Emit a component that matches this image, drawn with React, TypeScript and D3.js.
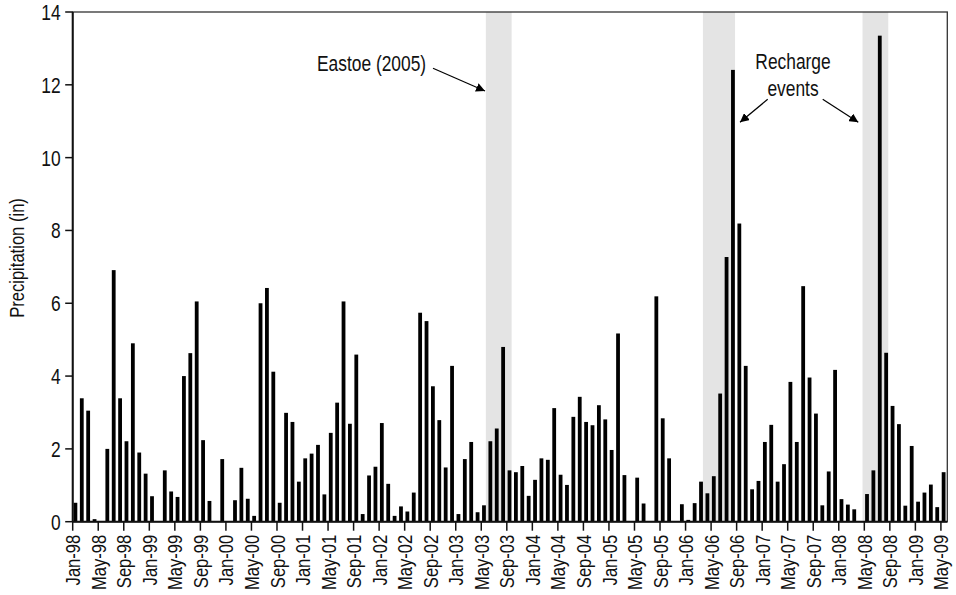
import React from "react";
import { scaleBand, scaleLinear, timeMonth, timeFormat } from "d3";

// monthly precipitation (in), Jan-98 .. May-09
const p1998 = [0.52, 3.39, 3.05, 0.07, 0, 2.0, 6.91, 3.39, 2.21, 4.9, 1.9, 1.32];
const p1999 = [0.7, 0, 1.41, 0.83, 0.68, 4.0, 4.63, 6.05, 2.24, 0.57, 0, 1.72];
const p2000 = [0, 0.59, 1.48, 0.63, 0.16, 6.0, 6.42, 4.12, 0.52, 2.99, 2.74, 1.1];
const p2001 = [1.74, 1.87, 2.11, 0.75, 2.44, 3.27, 6.05, 2.69, 4.59, 0.21, 1.27, 1.51];
const p2002 = [2.71, 1.04, 0.16, 0.42, 0.28, 0.8, 5.74, 5.51, 3.72, 2.79, 1.49, 4.28];
const p2003 = [0.21, 1.72, 2.19, 0.26, 0.45, 2.21, 2.56, 4.8, 1.41, 1.36, 1.53, 0.71];
const p2004 = [1.15, 1.74, 1.7, 3.12, 1.29, 1.01, 2.88, 3.43, 2.74, 2.65, 3.2, 2.81];
const p2005 = [1.97, 5.17, 1.28, 0, 1.21, 0.5, 0, 6.19, 2.84, 1.74, 0, 0.48];
const p2006 = [0.05, 0.51, 1.1, 0.78, 1.25, 3.52, 7.27, 12.41, 8.19, 4.28, 0.89, 1.12];
const p2007 = [2.19, 2.66, 1.1, 1.58, 3.84, 2.19, 6.47, 3.96, 2.97, 0.45, 1.38, 4.17];
const p2008 = [0.62, 0.47, 0.34, 0, 0.76, 1.41, 13.35, 4.64, 3.18, 2.68, 0.44, 2.08];
const p2009 = [0.55, 0.8, 1.02, 0.4, 1.36];

const precip = [
  ...p1998, ...p1999, ...p2000, ...p2001, ...p2002, ...p2003,
  ...p2004, ...p2005, ...p2006, ...p2007, ...p2008, ...p2009
];

const fmt = timeFormat("%b-%y");
const months = timeMonth
  .range(new Date(1998, 0, 1), new Date(2009, 5, 1))
  .map(d => fmt(d));

const yTicks = [0, 2, 4, 6, 8, 10, 12, 14];

// shaded periods: [first month, last month]
const periods: [string, string][] = [
  ["Jun-03", "Sep-03"],
  ["Apr-06", "Aug-06"],
  ["May-08", "Aug-08"]
];

// no narrow font installed, so squeeze Liberation Sans (Arial metrics)
const FONT = "'Liberation Sans', Arial, sans-serif";
const NARROW = 0.79;

export default function App() {
  const W = 956;
  const H = 595;
  const LEFT = 72.7;
  const RIGHT = 947.3;
  const TOP = 12;
  const BOTTOM = 521.7;

  const x = scaleBand<string>().domain(months).range([LEFT, RIGHT]).padding(0);
  const y = scaleLinear().domain([0, 14]).range([BOTTOM, TOP]);

  return (
    <svg
      width={W}
      height={H}
      style={{ position: "absolute", left: 0, top: 0, background: "#fff" }}
      fontFamily={FONT}
      fill="#111"
    >
      <defs>
        <marker
          id="arr"
          viewBox="0 0 10 10"
          refX="10"
          refY="5"
          markerWidth="9"
          markerHeight="9"
          markerUnits="userSpaceOnUse"
          orient="auto"
        >
          <path d="M0,0 L10,5 L0,10 z" fill="#000" />
        </marker>
      </defs>

      {/* shaded periods */}
      {periods.map(([a, b]) => (
        <rect
          key={a}
          x={x(a)! - 1.8}
          y={TOP}
          width={x(b)! + 4.8 - (x(a)! - 1.8)}
          height={BOTTOM - TOP}
          fill="#e4e4e4"
        />
      ))}

      {/* bars */}
      {precip.map((v, i) =>
        v > 0 ? (
          <rect
            key={i}
            x={x(months[i])! + 0.8}
            y={y(v)}
            width={3.8}
            height={BOTTOM - y(v)}
            fill="#000"
          />
        ) : null
      )}

      {/* frame */}
      <rect
        x={LEFT}
        y={TOP}
        width={RIGHT - LEFT}
        height={BOTTOM - TOP}
        fill="none"
        stroke="#333"
        strokeWidth={1.3}
      />
      <line x1={LEFT} x2={LEFT} y1={TOP} y2={BOTTOM} stroke="#111" strokeWidth={2} />
      <line x1={LEFT} x2={RIGHT} y1={BOTTOM} y2={BOTTOM} stroke="#111" strokeWidth={2} />

      {/* y axis */}
      {yTicks.map(v => (
        <g key={v} transform={`translate(${LEFT}, ${y(v)})`}>
          <line x1={-7.5} x2={0} stroke="#111" strokeWidth={1.5} />
          <text
            transform={`translate(-12, 0) scale(${NARROW}, 1)`}
            dy="0.36em"
            textAnchor="end"
            fontSize={22}
          >
            {v}
          </text>
        </g>
      ))}
      <text
        transform={`translate(24, 258) rotate(-90) scale(${NARROW}, 1)`}
        textAnchor="middle"
        fontSize={21}
      >
        Precipitation (in)
      </text>

      {/* x axis */}
      {months.map((m, i) =>
        i % 4 === 0 ? (
          <g key={m} transform={`translate(${x(m)}, ${BOTTOM})`}>
            <line y1={0} y2={9} stroke="#111" strokeWidth={1.5} />
            <text
              transform={`translate(0, 13) rotate(-90) scale(${NARROW}, 1)`}
              textAnchor="end"
              dy="0.36em"
              fontSize={21}
            >
              {m}
            </text>
          </g>
        ) : null
      )}

      {/* annotations */}
      <text transform={`translate(317, 70.7) scale(${NARROW}, 1)`} fontSize={22}>
        Eastoe (2005)
      </text>
      <line x1={433} y1={68.3} x2={485} y2={91} stroke="#000" strokeWidth={1.2} markerEnd="url(#arr)" />

      <text transform={`translate(793, 69.3) scale(${NARROW}, 1)`} textAnchor="middle" fontSize={22}>
        Recharge
      </text>
      <text transform={`translate(793, 95.5) scale(${NARROW}, 1)`} textAnchor="middle" fontSize={22}>
        events
      </text>
      <line x1={767.7} y1={99.3} x2={740} y2={122.3} stroke="#000" strokeWidth={1.2} markerEnd="url(#arr)" />
      <line x1={822.7} y1={99.3} x2={858.3} y2={122.3} stroke="#000" strokeWidth={1.2} markerEnd="url(#arr)" />
    </svg>
  );
}
